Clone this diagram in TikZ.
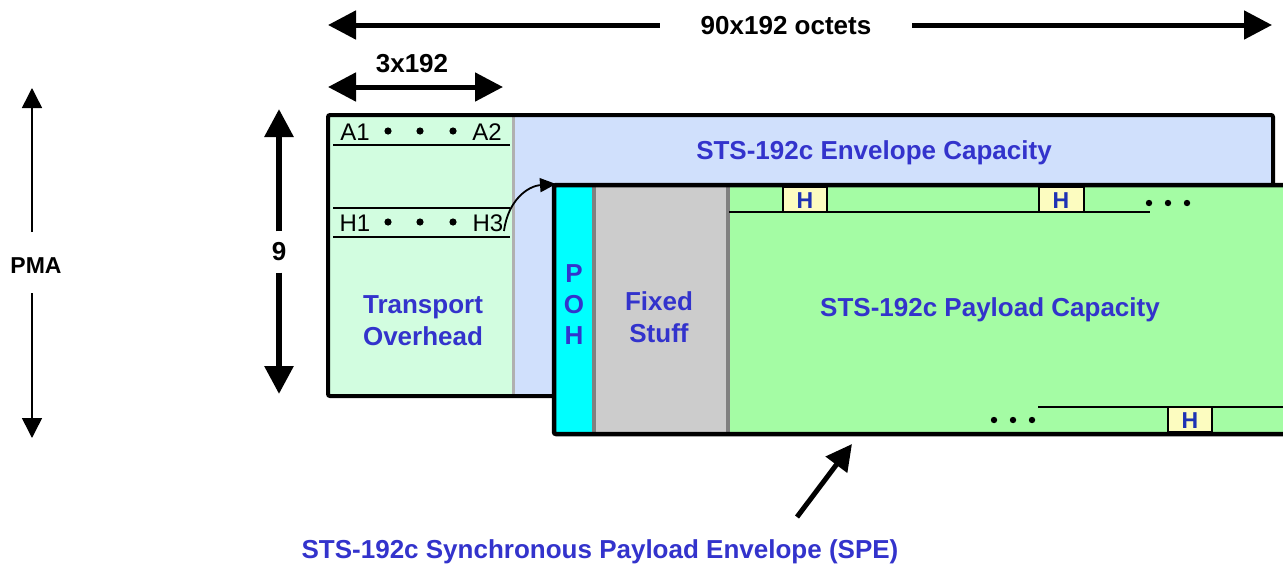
\documentclass[tikz,border=0pt]{standalone}
\usepackage{fontspec}
\setmainfont{Liberation Sans}
\usetikzlibrary{arrows.meta}
\definecolor{tohc}{RGB}{210,253,224}
\definecolor{envc}{RGB}{208,224,252}
\definecolor{payc}{RGB}{164,252,164}
\definecolor{pohc}{RGB}{0,255,255}
\definecolor{fixc}{RGB}{204,204,204}
\definecolor{hboxc}{RGB}{252,252,192}
\definecolor{txtblue}{RGB}{51,51,204}
\definecolor{hblue}{RGB}{30,50,180}
\definecolor{sepa}{RGB}{176,176,176}
\definecolor{sepb}{RGB}{128,128,128}
\tikzset{
  lbl/.style={font=\fontsize{26}{30}\selectfont\bfseries, inner sep=0pt},
  bluelbl/.style={lbl, text=txtblue, align=center},
  reglbl/.style={font=\fontsize{24}{28}\selectfont, inner sep=0pt},
  hlbl/.style={font=\fontsize{23}{26}\selectfont\bfseries, text=hblue, inner sep=0pt},
  thin rule/.style={line width=2.5pt, black},
  hbox/.style={fill=hboxc, draw=black, line width=2.5pt},
  dot/.style={fill=black, draw=none},
  dimarrow/.style={line width=5pt, -{Triangle[length=28pt,width=28pt]}},
  ninearrow/.style={line width=6pt, -{Triangle[length=28pt,width=28pt]}},
  pmaarrow/.style={line width=1.5pt, -{Triangle[length=20pt,width=20pt]}},
  curvearrow/.style={line width=1.8pt, -{Triangle[length=16pt,width=14pt]}},
  spearrow/.style={line width=5pt, -{Triangle[length=26pt,width=26pt]}},
}
\begin{document}
\begin{tikzpicture}[x=1pt,y=-1pt]
\useasboundingbox (0,0) rectangle (1283,565);
\begin{scope}
\clip (0,0) rectangle (1283,565);
% ---------- STS-192c frame ----------
\fill[tohc] (328,115) rectangle (513,396);
\fill[envc] (513,115) rectangle (1273,396);
\draw[sepa, line width=3pt] (513,117) -- (513,394);
\draw[line width=4pt, rounded corners=2pt] (328,115) rectangle (1273,396);
% TOH rows
\draw[thin rule] (333,145) -- (510,145);
\draw[thin rule] (333,208) -- (510,208);
\draw[thin rule] (333,237) -- (510,237);
% ---------- SPE ----------
\fill[pohc] (554,185) rectangle (594,434);
\fill[fixc] (594,185) rectangle (728,434);
\fill[payc] (728,185) rectangle (1300,434);
\draw[sepb, line width=3.5pt] (594,187) -- (594,432);
\draw[sepb, line width=3.5pt] (728,187) -- (728,432);
\draw[line width=4.5pt, rounded corners=2pt] (554,185) rectangle (1300,434);
% H rows
\draw[thin rule] (729,212) -- (1150,212);
\draw[hbox] (783,187) rectangle (827,212);
\draw[hbox] (1039,187) rectangle (1084,212);
\draw[thin rule] (1038,407) -- (1300,407);
\draw[hbox] (1168,407) rectangle (1212,432);
\end{scope}
\node[hlbl] (h1box) at (805,201) {H};
\node[hlbl] (h2box) at (1061,201) {H};
\node[hlbl] (h3box) at (1190,421) {H};
% dots
\fill[dot] (1149,203) circle (3.2);
\fill[dot] (1168,203) circle (3.2);
\fill[dot] (1187,203) circle (3.2);
\fill[dot] (994,420) circle (3.2);
\fill[dot] (1013,420) circle (3.2);
\fill[dot] (1032,420) circle (3.2);
% TOH texts
\node[reglbl] (a1) at (355,132) {A1};
\node[reglbl] (a2) at (487,132) {A2};
\fill[dot] (388,131) circle (3.6);
\fill[dot] (420,131) circle (3.6);
\fill[dot] (453,131) circle (3.6);
\node[reglbl] (h1) at (355,223) {H1};
\node[reglbl] (h3) at (488,223) {H3};
\fill[dot] (388,222) circle (3.6);
\fill[dot] (420,222) circle (3.6);
\fill[dot] (453,222) circle (3.6);
\node[bluelbl] (toh) at (423,321) {Transport\\[2pt]Overhead};
\node[bluelbl] (env) at (874,153) {STS-192c Envelope Capacity};
\node[bluelbl] (poh) at (574,305) {P\\[1pt]O\\[1pt]H};
\node[bluelbl] (fix) at (659,317) {Fixed\\[2pt]Stuff};
\node[bluelbl] (pay) at (990,310) {STS-192c Payload Capacity};
% curved pointer H3 -> SPE corner
\coordinate (spenw) at (556,184);
\draw[curvearrow] (504,231) .. controls (508,200) and (528,186) .. (spenw);
% ---------- dimension arrows ----------
\node[lbl, minimum width=252pt] (oct) at (786,26) {90x192 octets};
\coordinate (octl) at (328,25);
\coordinate (octr) at (1272,25);
\draw[dimarrow] (oct.west |- octl) -- (octl);
\draw[dimarrow] (oct.east |- octr) -- (octr);
\node[lbl] (three) at (412,64) {3x192};
\coordinate (thl) at (328,87);
\coordinate (thr) at (503,87);
\draw[line width=5pt, {Triangle[length=28pt,width=28pt]}-{Triangle[length=28pt,width=28pt]}] (thl) -- (thr);
\node[lbl, minimum height=41pt] (nine) at (279,252) {9};
\coordinate (ninet) at (279,109);
\coordinate (nineb) at (279,394);
\draw[ninearrow] (nine.north) -- (ninet);
\draw[ninearrow] (nine.south) -- (nineb);
\node[lbl, font=\fontsize{23}{27}\selectfont\bfseries, minimum height=61pt] (pma) at (36,266) {PMA};
\coordinate (pmat) at (32,88);
\coordinate (pmab) at (32,438);
\coordinate (pmagt) at (32,232);
\coordinate (pmagb) at (32,293);
\draw[pmaarrow] (pmagt) -- (pmat);
\draw[pmaarrow] (pmagb) -- (pmab);
% SPE pointer
\node[bluelbl] (spel) at (600,552) {STS-192c Synchronous Payload Envelope (SPE)};
\coordinate (spetail) at (797,517);
\coordinate (spetip) at (852,444);
\draw[spearrow] (spetail) -- (spetip);
\end{tikzpicture}
\end{document}
